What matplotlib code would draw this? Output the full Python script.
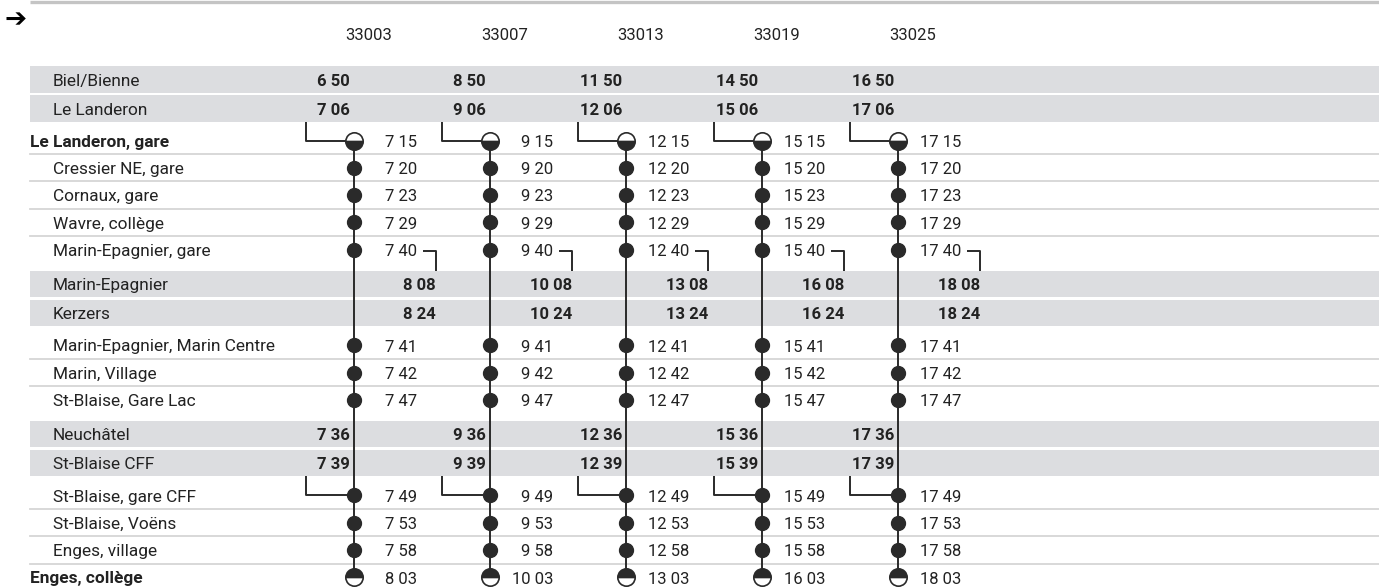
import matplotlib
matplotlib.use("Agg")
import matplotlib.pyplot as plt

# --- data -------------------------------------------------------------
trains = ["33003", "33007", "33013", "33019", "33025"]

# gray band: connecting train towards Le Landeron
feed_stations = ["Biel/Bienne", "Le Landeron"]
feed_times = [["6 50", "8 50", "11 50", "14 50", "16 50"],
              ["7 06", "9 06", "12 06", "15 06", "17 06"]]

# bus part 1
bus1_stations = ["Le Landeron, gare", "Cressier NE, gare", "Cornaux, gare",
                 "Wavre, collège", "Marin-Epagnier, gare"]
bus1_times = [["7 15", "9 15", "12 15", "15 15", "17 15"],
              ["7 20", "9 20", "12 20", "15 20", "17 20"],
              ["7 23", "9 23", "12 23", "15 23", "17 23"],
              ["7 29", "9 29", "12 29", "15 29", "17 29"],
              ["7 40", "9 40", "12 40", "15 40", "17 40"]]

# gray band: onward train from Marin-Epagnier
onward_stations = ["Marin-Epagnier", "Kerzers"]
onward_times = [["8 08", "10 08", "13 08", "16 08", "18 08"],
                ["8 24", "10 24", "13 24", "16 24", "18 24"]]

# bus part 2
bus2_stations = ["Marin-Epagnier, Marin Centre", "Marin, Village", "St-Blaise, Gare Lac"]
bus2_times = [["7 41", "9 41", "12 41", "15 41", "17 41"],
              ["7 42", "9 42", "12 42", "15 42", "17 42"],
              ["7 47", "9 47", "12 47", "15 47", "17 47"]]

# gray band: connecting train from Neuchâtel
nch_stations = ["Neuchâtel", "St-Blaise CFF"]
nch_times = [["7 36", "9 36", "12 36", "15 36", "17 36"],
             ["7 39", "9 39", "12 39", "15 39", "17 39"]]

# bus part 3
bus3_stations = ["St-Blaise, gare CFF", "St-Blaise, Voëns", "Enges, village", "Enges, collège"]
bus3_times = [["7 49", "9 49", "12 49", "15 49", "17 49"],
              ["7 53", "9 53", "12 53", "15 53", "17 53"],
              ["7 58", "9 58", "12 58", "15 58", "17 58"],
              ["8 03", "10 03", "13 03", "16 03", "18 03"]]

bold_stations = ["Le Landeron, gare", "Enges, collège"]

# --- layout / style ---------------------------------------------------
plt.rcParams["font.family"] = ["Roboto", "DejaVu Sans"]
FS = 12
FSL = 12.4         # station labels
TXT = "#222222"
BAND = "#dcdde0"
SEP = "#d6d6d6"
LINE = "#2a2a2a"
X0 = 30            # left edge of table
XLAB = 53          # indented station labels
COL0, COLW = 354, 136
WROW = 27.3        # white row pitch
GH, GGAP = 26.5, 2.5

cols = [COL0 + COLW * i for i in range(len(trains))]

fig = plt.figure(figsize=(13.79, 5.88), dpi=100)
ax = fig.add_axes([0, 0, 1, 1])
ax.set_xlim(0, 1379)
ax.set_ylim(588, 0)
ax.axis("off")

# header
ax.plot([X0, 1379], [1.5, 1.5], color="#c4c4c4", lw=2.4, solid_capstyle="butt")
ax.text(5, 20, "➔", fontsize=19, fontweight="bold", color="black",
        family=["DejaVu Sans"], va="center")
for x, t in zip(cols, trains):
    ax.text(x + 15, 39.5, t, fontsize=FS, color=TXT, ha="center", va="baseline")


def label(y, name, bold=False):
    ax.text(X0 if bold else XLAB, y + 6.3, name, fontsize=FSL, color=TXT,
            fontweight="bold" if bold else "normal", va="baseline")


def gray_group(top, names, times, dx):
    for k, (name, row) in enumerate(zip(names, times)):
        t0 = top + k * (GH + GGAP)
        ax.add_patch(plt.Rectangle((X0, t0), 1379 - X0, GH, color=BAND, lw=0, zorder=0))
        yc = t0 + GH / 2
        label(yc, name)
        for x, t in zip(cols, row):
            ax.text(x + dx, yc + 6.3, t, fontsize=FS, color=TXT, fontweight="bold",
                    ha="right", va="baseline", zorder=3)
    return top + len(names) * (GH + GGAP) - GGAP


def white_group(first, names, times):
    ys = []
    for k, (name, row) in enumerate(zip(names, times)):
        yc = first + k * WROW
        label(yc, name, name in bold_stations)
        if k < len(names) - 1:
            ax.plot([X0, 1379], [yc + WROW / 2, yc + WROW / 2], color=SEP, lw=1.3, zorder=0)
        for x, t in zip(cols, row):
            ax.text(x + 63, yc + 6.3, t, fontsize=FS, color=TXT, ha="right", va="baseline")
        ys.append(yc)
    return ys


b1 = gray_group(66, feed_stations, feed_times, -4)
ys1 = white_group(b1 + 19, bus1_stations, bus1_times)
top2 = ys1[-1] + 21
b2 = gray_group(top2, onward_stations, onward_times, 82)
ys2 = white_group(b2 + 19, bus2_stations, bus2_times)
top3 = ys2[-1] + 21
b3 = gray_group(top3, nch_stations, nch_times, -4)
ys3 = white_group(b3 + 19, bus3_stations, bus3_times)

stops = ys1 + ys2 + ys3
lk = dict(color=LINE, lw=1.4, solid_capstyle="butt", zorder=2)
for x in cols:
    # trip line
    ax.plot([x, x], [stops[0], stops[-1]], **lk)
    # feeder connections
    ax.plot([x - 48, x - 48, x], [b1, ys1[0], ys1[0]], **lk)
    ax.plot([x - 48, x - 48, x], [b3, ys3[0], ys3[0]], **lk)
    # onward connection hook
    ax.plot([x + 69, x + 82, x + 82], [ys1[-1] + 1, ys1[-1] + 1, top2], **lk)
    # stops
    mids = ys1[1:] + ys2 + ys3[:-1]
    ax.plot([x] * len(mids), mids, "o", ms=10, color=LINE, mec=LINE, zorder=3)
    ax.plot([x], [ys1[0]], "o", ms=12.5, fillstyle="bottom", color=LINE,
            markerfacecoloralt="white", mec=LINE, mew=1.2, zorder=3)
    ax.plot([x], [ys3[-1]], "o", ms=12.5, fillstyle="top", color=LINE,
            markerfacecoloralt="white", mec=LINE, mew=1.2, zorder=3)

fig.savefig("out.png", dpi=100)
